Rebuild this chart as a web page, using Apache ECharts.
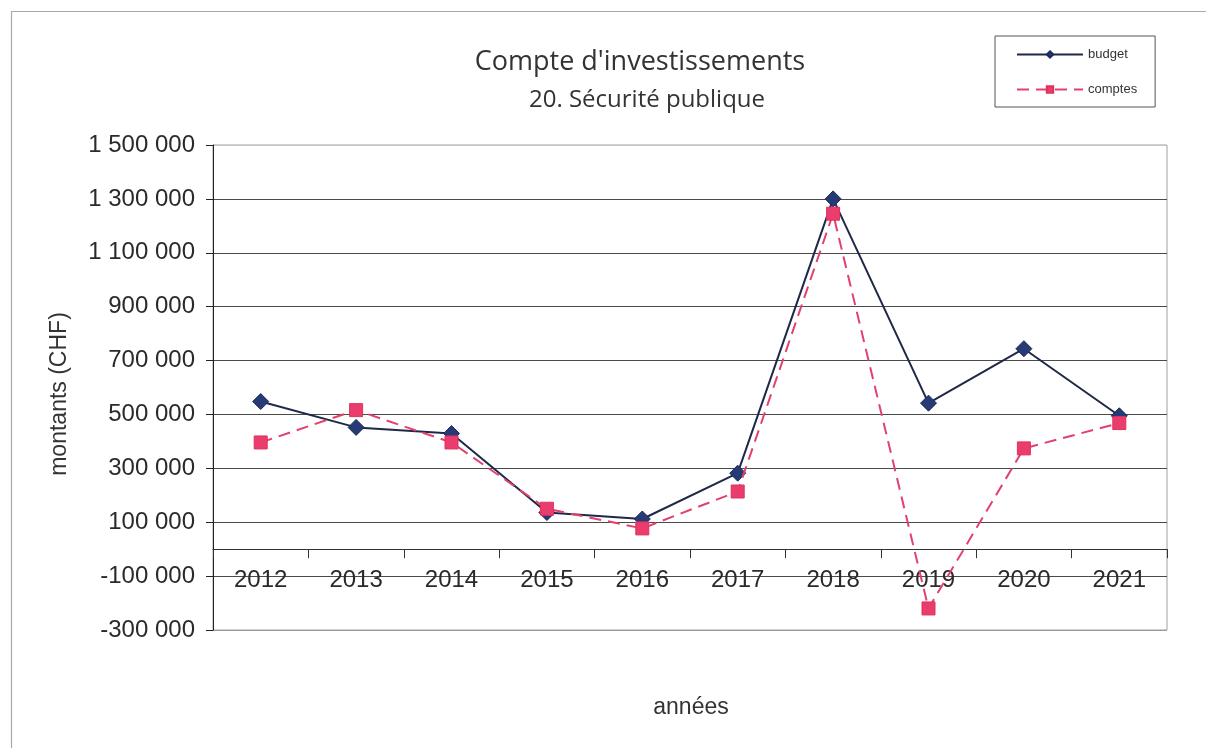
<!DOCTYPE html>
<html>
<head>
<meta charset="utf-8">
<title>Compte d'investissements</title>
<script src="https://cdn.jsdelivr.net/npm/echarts@6/dist/echarts.min.js"></script>
<style>
  html, body { margin: 0; padding: 0; background: #fff; }
  #chart { width: 1206px; height: 748px; }
</style>
</head>
<body>
<div id="chart"></div>
<script>
// Années et montants (CHF)
const years = ['2012', '2013', '2014', '2015', '2016', '2017', '2018', '2019', '2020', '2021'];
const budget = [548000, 452000, 429000, 136000, 112000, 282000, 1300000, 542000, 744000, 495000];
const comptes = [396000, 516000, 396000, 150000, 77000, 214000, 1245000, -220000, 374000, 468000];
const yMin = -300000;
const yMax = 1500000;
const yStep = 200000;

const fmt = v => String(v).replace(/\B(?=(\d{3})+(?!\d))/g, ' ');

const chart = echarts.init(document.getElementById('chart'));

// split lines: bottom and top frame lines are lighter than the inner grid
const nLines = Math.round((yMax - yMin) / yStep) + 1;
const splitColors = [];
for (let i = 0; i < nLines; i++) {
  splitColors.push(i === 0 ? '#9a9a9a' : (i === nLines - 1 ? '#c4c4c4' : '#4a4a4a'));
}

const axisFont = { fontFamily: 'Liberation Sans', fontSize: 24, color: '#2a2a2a' };

chart.setOption({
  animation: false,
  backgroundColor: '#ffffff',
  graphic: [
    {
      type: 'rect', silent: true, z: -1,
      shape: { x: 11.5, y: 11.5, width: 1400, height: 1000 },
      style: { fill: 'none', stroke: '#a8a8a8', lineWidth: 1.2 }
    },
    {
      type: 'text', x: 640, y: 62,
      style: {
        text: "Compte d'investissements", fontFamily: 'Open Sans', fontSize: 27,
        fill: '#333', align: 'center', verticalAlign: 'middle'
      }
    },
    {
      type: 'text', x: 647, y: 100,
      style: {
        text: '20. Sécurité publique', fontFamily: 'Open Sans', fontSize: 24,
        fill: '#333', align: 'center', verticalAlign: 'middle'
      }
    },
    {
      type: 'text', x: 60, y: 394, rotation: Math.PI / 2,
      style: {
        text: 'montants (CHF)', fontFamily: 'Liberation Sans', fontSize: 23,
        fill: '#333', align: 'center', verticalAlign: 'middle'
      }
    },
    {
      type: 'text', x: 691, y: 708,
      style: {
        text: 'années', fontFamily: 'Liberation Sans', fontSize: 23,
        fill: '#333', align: 'center', verticalAlign: 'middle'
      }
    }
  ],
  legend: {
    orient: 'vertical',
    left: 995,
    top: 36,
    padding: [12, 18, 11, 21],
    itemWidth: 66,
    itemHeight: 8,
    itemGap: 22,
    borderColor: '#555',
    borderWidth: 1,
    textStyle: { fontFamily: 'Liberation Sans', fontSize: 13, color: '#333' },
    data: ['budget', 'comptes']
  },
  grid: {
    left: 213, right: 39, top: 145, bottom: 118,
    show: true, borderColor: '#a0a0a0', borderWidth: 1
  },
  xAxis: {
    type: 'category',
    data: years,
    boundaryGap: true,
    axisLine: { onZero: true, lineStyle: { color: '#333', width: 1 } },
    axisTick: { show: true, inside: false, length: 9, lineStyle: { color: '#333' } },
    axisLabel: Object.assign({ margin: -62 }, axisFont),
    splitLine: { show: false }
  },
  yAxis: {
    type: 'value',
    min: yMin,
    max: yMax,
    interval: yStep,
    axisLine: { show: true, lineStyle: { color: '#222', width: 1 } },
    axisTick: { show: true, inside: false, length: 7, lineStyle: { color: '#222' } },
    axisLabel: Object.assign({ margin: 18, formatter: fmt }, axisFont),
    splitLine: { show: true, lineStyle: { color: splitColors, width: 1 } }
  },
  series: [
    {
      name: 'budget',
      type: 'line',
      data: budget,
      symbol: 'diamond',
      symbolSize: 16,
      itemStyle: { color: '#263a76', borderColor: '#1c2a58', borderWidth: 1 },
      lineStyle: { color: '#1f2847', width: 2 },
      z: 3
    },
    {
      name: 'comptes',
      type: 'line',
      data: comptes,
      symbol: 'rect',
      symbolSize: 13,
      itemStyle: { color: '#ea3d6e', borderColor: '#e0305f', borderWidth: 1 },
      lineStyle: { color: '#e2416e', width: 2, type: [12, 7] },
      z: 4
    }
  ]
});
</script>
</body>
</html>
